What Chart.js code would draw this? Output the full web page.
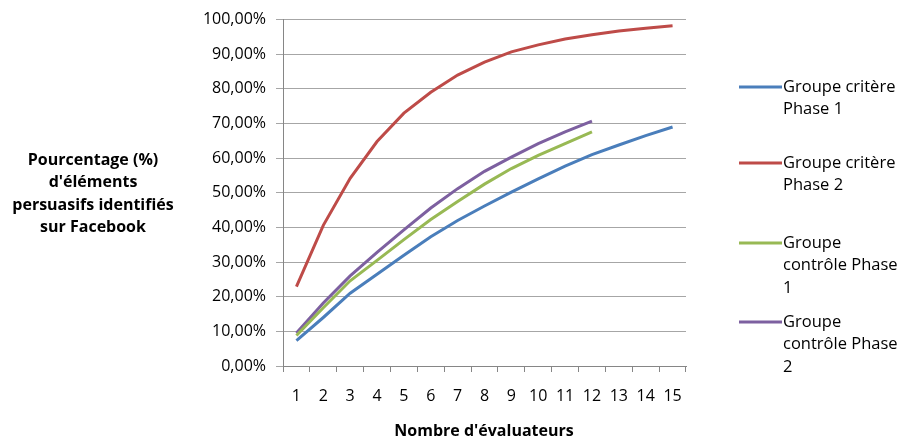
<!DOCTYPE html>
<html>
<head>
<meta charset="utf-8">
<script src="https://cdn.jsdelivr.net/npm/chart.js"></script>
<style>
  body { margin: 0; background: #fff; }
  #wrap { width: 903px; height: 441px; position: relative; }
</style>
</head>
<body>
<div id="wrap"><canvas id="c"></canvas></div>
<script>
// données
const evaluateurs = ['1','2','3','4','5','6','7','8','9','10','11','12','13','14','15'];
const critereP1 = [7.3, 14.0, 21.0, 26.5, 32.0, 37.3, 42.0, 46.2, 50.2, 54.0, 57.7, 61.0, 63.8, 66.5, 69.0];
const critereP2 = [22.9, 40.6, 54.2, 64.8, 73.0, 79.0, 84.0, 87.7, 90.7, 92.7, 94.4, 95.6, 96.7, 97.5, 98.2];
const controleP1 = [8.8, 16.8, 24.6, 30.5, 36.5, 42.3, 47.5, 52.5, 57.0, 60.8, 64.2, 67.6];
const controleP2 = [9.5, 18.2, 26.0, 32.8, 39.3, 45.6, 51.2, 56.2, 60.3, 64.2, 67.6, 70.7];
const nomsSeries = ['Groupe critère Phase 1', 'Groupe critère Phase 2', 'Groupe contrôle Phase 1', 'Groupe contrôle Phase 2'];
// libellés de légende tels que coupés sur l'image
const legendeLignes = [['Groupe critère', 'Phase 1'], ['Groupe critère', 'Phase 2'], ['Groupe', 'contrôle Phase', '1'], ['Groupe', 'contrôle Phase', '2']];
const couleurs = ['#4a7ebb', '#be4b48', '#98b954', '#7d60a0'];

const police = "'Open Sans', 'Noto Sans', sans-serif";

const textesPlugin = {
  id: 'textes',
  afterDraw(chart) {
    const ctx = chart.ctx;
    ctx.save();
    // titre de l'axe Y, horizontal sur plusieurs lignes
    ctx.font = 'bold 16px ' + police;
    ctx.fillStyle = '#000';
    ctx.textAlign = 'center';
    ctx.textBaseline = 'middle';
    ['Pourcentage (%)', "d'éléments", 'persuasifs identifiés', 'sur Facebook'].forEach((t, i) => {
      ctx.fillText(t, 93, 160 + i * 22.5);
    });
    // titre de l'axe X
    ctx.fillText("Nombre d'évaluateurs", 484, 431);
    // légende
    const yLeg = [87, 163, 243, 322];
    ctx.font = '16.5px ' + police;
    ctx.textAlign = 'left';
    legendeLignes.forEach((lignes, i) => {
      ctx.strokeStyle = couleurs[i];
      ctx.lineWidth = 3;
      ctx.beginPath();
      ctx.moveTo(739, yLeg[i]);
      ctx.lineTo(782, yLeg[i]);
      ctx.stroke();
      ctx.fillStyle = '#000';
      lignes.forEach((t, j) => ctx.fillText(t, 783, yLeg[i] + j * 22.5));
    });
    ctx.restore();
  }
};

const series = [critereP1, critereP2, controleP1, controleP2];

new Chart(document.getElementById('c'), {
  type: 'line',
  data: {
    labels: evaluateurs,
    datasets: series.map((d, i) => ({
      label: nomsSeries[i],
      data: d,
      borderColor: couleurs[i],
      backgroundColor: couleurs[i],
      borderWidth: 3,
      pointRadius: 0,
      tension: 0,
      fill: false
    }))
  },
  options: {
    responsive: true,
    maintainAspectRatio: false,
    animation: false,
    layout: { padding: { top: 17, right: 217, left: 0, bottom: 0 } },
    plugins: { legend: { display: false }, tooltip: { enabled: false } },
    scales: {
      x: {
        offset: true,
        grid: { offset: true, drawOnChartArea: false, drawTicks: true, tickLength: 6, color: '#868686' },
        border: { color: '#868686' },
        ticks: { color: '#000', font: { family: police, size: 16 }, padding: 15, maxRotation: 0, autoSkip: false },
        afterFit(s) { s.height = 75; }
      },
      y: {
        min: 0, max: 100,
        grid: { color: '#a6a6a6', tickLength: 7 },
        border: { color: '#868686' },
        ticks: {
          stepSize: 10,
          color: '#000',
          padding: 10,
          font: { family: police, size: 16 },
          callback: v => v.toFixed(2).replace('.', ',') + '%'
        },
        afterFit(s) { s.width = 283; }
      }
    }
  },
  plugins: [textesPlugin]
});
</script>
</body>
</html>
